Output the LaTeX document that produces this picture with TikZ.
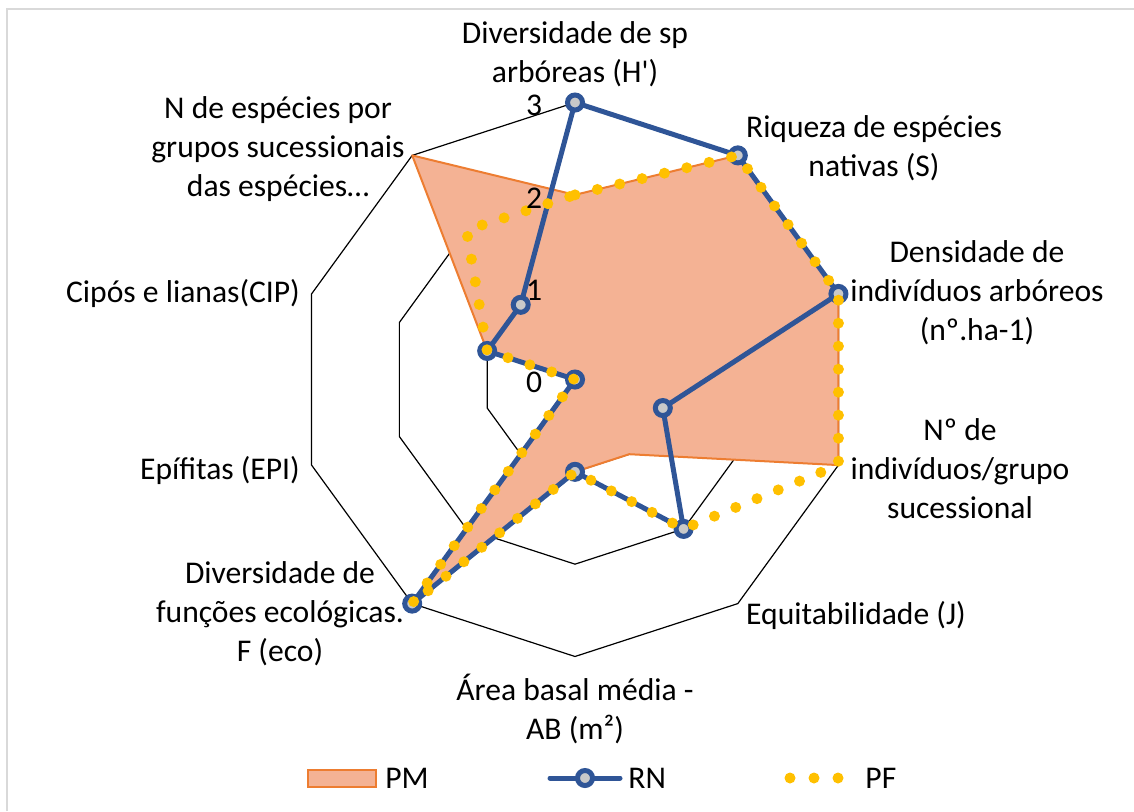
\documentclass[tikz,border=0pt]{standalone}
\usepackage{fontspec}
\setmainfont{Carlito}
\usepackage{tikz}
\usetikzlibrary{positioning}
\definecolor{pmfill}{HTML}{F4B294}
\definecolor{pmline}{HTML}{ED7D31}
\definecolor{rnblue}{HTML}{2F5597}
\definecolor{rngray}{HTML}{C9C9C9}
\definecolor{pfgold}{HTML}{FFC000}
\definecolor{framegray}{HTML}{D9D9D9}
\newcommand{\rad}{92.33}

\begin{document}
\begin{tikzpicture}[x=0.5pt, y=0.5pt, font=\fontsize{15.8}{19.5}\selectfont,
  ring/.style={black, line width=0.6pt},
  pmarea/.style={fill=pmfill, draw=pmline, line width=1pt, line join=round},
  rnline/.style={draw=rnblue, line width=2.5pt, line join=round},
  rnmark/.style={circle, draw=rnblue, fill=rngray, line width=2.5pt, minimum size=7.5pt, inner sep=0pt},
  pfline/.style={draw=pfgold, line width=5.5pt, line cap=round, dash pattern=on 0pt off 11.5pt},
  axlabel/.style={align=center, inner sep=0pt},
  legtext/.style={inner sep=0pt, anchor=west}]
\useasboundingbox (0,0) rectangle (1134,811);
% chart frame, only top and left edges are left
\draw[framegray, line width=1pt] (7,0) -- (7,802) -- (1134,802);

\begin{scope}[shift={(575,431.5)}]
% rings
\foreach \k in {1,2,3}
  \draw[ring] (90:{\k*\rad}) \foreach \i in {1,...,9} { -- ({90-36*\i}:{\k*\rad}) } -- cycle;
% values of the three series
\foreach \v [count=\i from 0] in {2,3,3,3,1,1,3,0,1,3}
  \coordinate (pm\i) at ({90-36*\i}:{\v*\rad});
\foreach \v [count=\i from 0] in {3,3,3,1,2,1,3,0,1,1}
  \coordinate (rn\i) at ({90-36*\i}:{\v*\rad});
\foreach \v [count=\i from 0] in {2,3,3,3,2,1,3,0,1,2}
  \coordinate (pf\i) at ({90-36*\i}:{\v*\rad});
\draw[pmarea] (pm0) \foreach \i in {1,...,9} { -- (pm\i) } -- cycle;
\draw[rnline] (rn0) \foreach \i in {1,...,9} { -- (rn\i) } -- cycle;
\foreach \i in {0,...,9}
  \node[rnmark] (rnm\i) at (rn\i) {};
\draw[pfline] (pf0) \foreach \i in {1,...,9} { -- (pf\i) } -- cycle;
% scale
\foreach \k in {0,...,3}
  \node (tick\k) at (-41, {\k*\rad-3}) {\k};
\end{scope}

% axis labels
\node[axlabel] (labH)   at (575,757) {Diversidade de sp\\arbóreas (H\textquotesingle)};
\node[axlabel] (labS)   at (874,663) {Riqueza de espécies\\nativas (S)};
\node[axlabel] (labD)   at (977,518) {Densidade de\\indivíduos arbóreos\\(nº.ha-1)};
\node[axlabel] (labN)   at (960,342) {Nº de\\indivíduos/grupo\\sucessional};
\node[axlabel] (labJ)   at (856,196) {Equitabilidade (J)};
\node[axlabel] (labAB)  at (575,102) {Área basal média -\\AB (m²)};
\node[axlabel] (labF)   at (280,197) {Diversidade de\\funções ecológicas.\\F (eco)};
\node[axlabel] (labEPI) at (220,341) {Epífitas (EPI)};
\node[axlabel] (labCIP) at (183,518) {Cipós e lianas(CIP)};
\node[axlabel] (labNsp) at (278,662) {N de espécies por\\grupos sucessionais\\das espécies…};

% legend
\node[draw=pmline, fill=pmfill, line width=1pt, minimum width=34pt, minimum height=8.5pt, inner sep=0pt] (pmkey) at (342,33) {};
\node[legtext, right=4pt of pmkey] (pmtxt) {PM};
\coordinate (rna) at (550,33);
\coordinate (rnb) at (620,33);
\draw[rnline, line cap=round] (rna) -- (rnb);
\node[rnmark] (rnkey) at (585,33) {};
\node[legtext, right=4pt of rnb] (rntxt) {RN};
\foreach \x [count=\j] in {790,814,838}
  \node[circle, fill=pfgold, minimum size=5.5pt, inner sep=0pt] (pfdot\j) at (\x,33) {};
\node[legtext] (pftxt) at (865,33) {PF};
\end{tikzpicture}
\end{document}
